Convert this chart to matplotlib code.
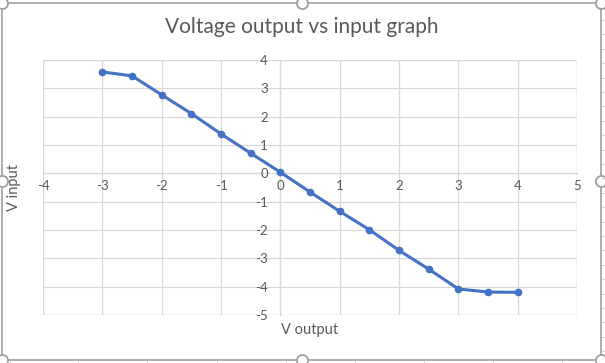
import matplotlib
import matplotlib.pyplot as plt
from matplotlib.lines import Line2D
from matplotlib.patches import Rectangle

matplotlib.use("Agg")

# data
v_output = [-3.0, -2.5, -2.0, -1.5, -1.0, -0.5, 0.0, 0.5, 1.0, 1.5, 2.0, 2.5, 3.0, 3.5, 4.0]
v_input = [3.58, 3.44, 2.77, 2.11, 1.39, 0.71, 0.04, -0.66, -1.34, -1.99, -2.72, -3.38, -4.08, -4.19, -4.2]
x_ticks = [-4, -3, -2, -1, 0, 1, 2, 3, 4, 5]
y_ticks = [-5, -4, -3, -2, -1, 0, 1, 2, 3, 4]

W, H = 605, 363
TEXT = "#595959"
GRID = "#d9d9d9"
AXIS = "#bfbfbf"
LINE = "#4472c4"

plt.rcParams["font.family"] = ["Lato", "DejaVu Sans"]
plt.rcParams["axes.unicode_minus"] = False

fig = plt.figure(figsize=(W / 100, H / 100), dpi=100)
ax = fig.add_axes([43 / W, (H - 315) / H, 534 / W, 255 / H])

ax.plot(v_output, v_input, color=LINE, linewidth=2.2, marker="o",
        markersize=4.5, zorder=3)

ax.set_xlim(-4, 5)
ax.set_ylim(-5, 4)
ax.set_xticks(x_ticks)
ax.set_yticks(y_ticks)
ax.grid(True, color=GRID, linewidth=0.9, zorder=0)

for side in ["top", "right"]:
    ax.spines[side].set_visible(False)
ax.spines["left"].set_position(("data", 0))
ax.spines["bottom"].set_position(("data", 0))
ax.spines["left"].set_color(AXIS)
ax.spines["bottom"].set_color(AXIS)
ax.spines["left"].set_zorder(1)
ax.spines["bottom"].set_zorder(1)

# outer frame of the plot area
ax.add_patch(Rectangle((-4, -5), 9, 9, fill=False, edgecolor=GRID,
                       linewidth=0.9, zorder=0.5))

ax.tick_params(axis="both", length=0, labelsize=9.5, labelcolor=TEXT)
ax.tick_params(axis="x", pad=5)
ax.tick_params(axis="y", pad=9)

ax.set_xlabel("V output", fontsize=10.5, color=TEXT)
ax.set_ylabel("V input", fontsize=10.5, color=TEXT)
ax.xaxis.set_label_coords(0.5, -0.03)
ax.yaxis.set_label_coords(-0.041, 0.5)
ax.xaxis.label.set_verticalalignment("top")

fig.text(302 / W, 1 - 27 / H, "Voltage output vs input graph", fontsize=15,
         color=TEXT, ha="center", va="center")

# chart border and selection handles (Excel screenshot look)
fig.add_artist(Rectangle((2 / W, 3 / H), 599 / W, 357 / H, transform=fig.transFigure,
                         fill=False, edgecolor="#a0a0a0", linewidth=1.2))
for hx in [2, 302, 601]:
    for hy in [3, 181, 360]:
        if hx == 302 and hy == 181:
            continue
        fig.add_artist(Line2D([hx / W], [1 - hy / H], marker="o", markersize=8,
                              markerfacecolor="white", markeredgecolor="#a0a0a0",
                              markeredgewidth=1.3, transform=fig.transFigure))

# spreadsheet cell edges peeking out around the chart
for cx in [10, 78, 147, 217, 286, 355, 424, 493, 562]:
    fig.add_artist(Line2D([cx / W, cx / W], [0, 2 / H], color="#d4d4d4",
                          linewidth=0.8, transform=fig.transFigure))
ry = 20
while ry < 355:
    fig.add_artist(Line2D([602 / W, 1], [1 - ry / H, 1 - ry / H], color="#d4d4d4",
                          linewidth=0.8, transform=fig.transFigure))
    ry += 14.4

fig.savefig("out.png", dpi=100)
plt.close(fig)
